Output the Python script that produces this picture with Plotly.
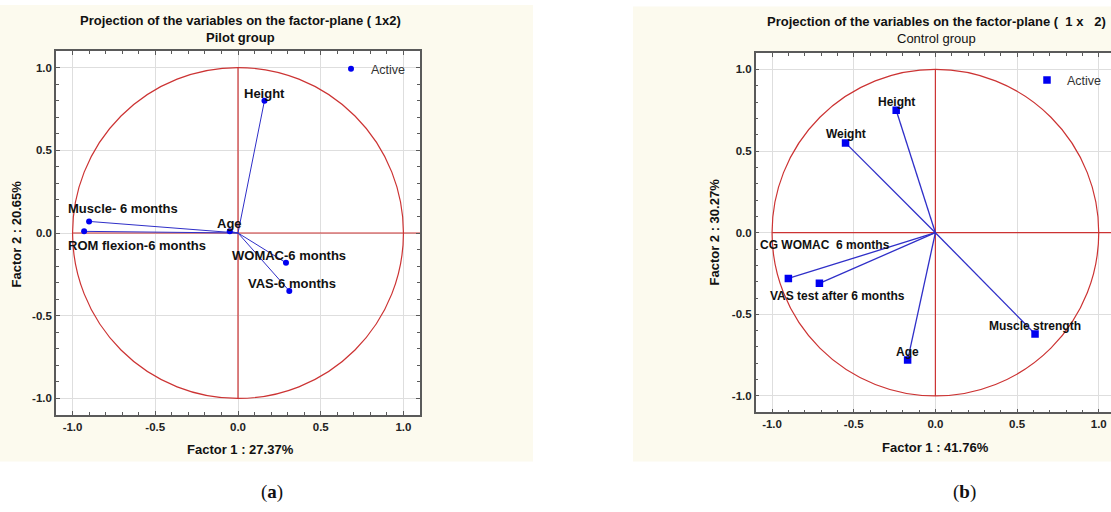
import plotly.graph_objects as go

# ---- data: factor loadings (Factor 1, Factor 2) of each variable ----
pilot_vars = ["Height", "Muscle- 6 months", "ROM flexion-6 months", "Age",
              "WOMAC-6 months", "VAS-6 months"]
pilot_f1 = [0.16, -0.90, -0.93, -0.05, 0.29, 0.31]
pilot_f2 = [0.80, 0.07, 0.01, 0.01, -0.18, -0.35]

control_vars = ["Height", "Weight", "CG WOMAC  6 months", "VAS test after 6 months",
                "Age", "Muscle strength"]
control_f1 = [-0.24, -0.55, -0.90, -0.71, -0.17, 0.61]
control_f2 = [0.75, 0.55, -0.28, -0.31, -0.78, -0.62]

tick_vals = [-1.0, -0.5, 0.0, 0.5, 1.0]
tick_text = ["-1.0", "-0.5", "0.0", "0.5", "1.0"]

pilot_titles = ["Factor 1 : 27.37%", "Factor 2 : 20.65%"]
control_titles = ["Factor 1 : 41.76%", "Factor 2 : 30.27%"]

# ---- label placement (anchor, x shift px, y shift px) ----
pilot_label_pos = [("center", 0, 7.5), ("left", -22.6, 12.7), ("left", -17.7, -14),
                   ("center", 0, 7.6), ("left", -56, 7), ("left", -43, 7)]
control_label_pos = [("center", 0, 8.5), ("center", 0, 8.5), ("left", -30, 33),
                     ("left", -51.7, -12.3), ("center", 0, 8), ("center", 0, 8)]

W, H = 1111, 512
FONT = "Liberation Sans"
CREAM = "#fcfaee"
FRAME = "#5a5a5a"
RED = "#cc3333"
BLUE_LINE = "#2f2fc8"
BLUE_DOT = "#0000f0"


def px_x(p):
    return p / W


def px_y(p):
    return 1 - p / H


def axis(domain, rng, mirror, anchor):
    return dict(
        domain=domain, range=rng, anchor=anchor,
        tickmode="array", tickvals=tick_vals, ticktext=tick_text,
        ticks="inside", ticklen=4, tickcolor=FRAME, tickwidth=1,
        showline=True, linecolor=FRAME, linewidth=1.5, mirror=mirror,
        showgrid=True, gridcolor="#dedede", gridwidth=1, zeroline=False,
        minor=dict(tickmode="linear", tick0=0, dtick=0.1, ticks="inside", ticklen=3,
                   tickcolor=FRAME, showgrid=False),
        tickfont=dict(family=FONT, size=11.5, color="#222222", weight="bold"),
        fixedrange=True,
    )


fig = go.Figure()


def add_panel(names, f1, f2, xa, ya, marker_symbol, marker_size, line_w, legend_id, label_pos,
              label_size):
    xs, ys = [], []
    for a, b in zip(f1, f2):
        xs += [0, a, None]
        ys += [0, b, None]
    fig.add_trace(go.Scatter(x=xs, y=ys, mode="lines", xaxis=xa, yaxis=ya,
                             line=dict(color=BLUE_LINE, width=line_w),
                             showlegend=False, hoverinfo="skip"))
    fig.add_trace(go.Scatter(x=f1, y=f2, mode="markers", xaxis=xa, yaxis=ya, name="Active",
                             text=names, legend=legend_id,
                             marker=dict(color=BLUE_DOT, size=marker_size, symbol=marker_symbol)))
    for name, a, b, (anchor, dx, dy) in zip(names, f1, f2, label_pos):
        fig.add_annotation(x=a, y=b, xref=xa, yref=ya, text=name, showarrow=False,
                           xanchor=anchor, yanchor="middle", xshift=dx, yshift=dy,
                           font=dict(family=FONT, size=label_size, color="#111111",
                                     weight="bold"))


add_panel(pilot_vars, pilot_f1, pilot_f2, "x", "y", "circle", 6, 1.0, "legend",
          pilot_label_pos, 13)
add_panel(control_vars, control_f1, control_f2, "x2", "y2", "square", 7.5, 1.3, "legend2",
          control_label_pos, 12)

shapes = []
# cream panel backgrounds
shapes.append(dict(type="rect", xref="paper", yref="paper", x0=px_x(0), x1=px_x(533),
                   y0=px_y(461.5), y1=px_y(5), fillcolor=CREAM, line_width=0, layer="below"))
shapes.append(dict(type="rect", xref="paper", yref="paper", x0=px_x(633), x1=1,
                   y0=px_y(461.5), y1=px_y(6.5), fillcolor=CREAM, line_width=0, layer="below"))
# white plotting areas
for xd, yd in (("x domain", "y domain"), ("x2 domain", "y2 domain")):
    shapes.append(dict(type="rect", xref=xd, yref=yd, x0=0, x1=1, y0=0, y1=1,
                       fillcolor="white", line_width=0, layer="below"))
# unit circle and red cross
for xr, yr, xmax in (("x", "y", 1.1), ("x2", "y2", 1.1)):
    shapes.append(dict(type="circle", xref=xr, yref=yr, x0=-1, y0=-1, x1=1, y1=1,
                       line=dict(color=RED, width=1.2), layer="between"))
    shapes.append(dict(type="line", xref=xr, yref=yr, x0=-1, x1=xmax, y0=0, y1=0,
                       line=dict(color=RED, width=1.2), layer="between"))
    shapes.append(dict(type="line", xref=xr, yref=yr, x0=0, x1=0, y0=-1, y1=1,
                       line=dict(color=RED, width=1.2), layer="between"))

annotations = []
# titles
annotations.append(dict(xref="paper", yref="paper", x=px_x(240), y=px_y(29), showarrow=False,
                        text="Projection of the variables on the factor-plane ( 1x2)<br>Pilot group",
                        font=dict(family=FONT, size=13, color="#111111", weight="bold"),
                        xanchor="center", yanchor="middle"))
annotations.append(dict(xref="paper", yref="paper", x=px_x(936.5), y=px_y(29.5), showarrow=False,
                        text="<b>Projection of the variables on the factor-plane (  1 x   2)</b><br>Control group",
                        font=dict(family=FONT, size=13, color="#111111"),
                        xanchor="center", yanchor="middle"))
# axis titles
for (t1, t2), cx, cy, ax_x, ax_y in ((pilot_titles, 240, 234, 16.4, 449.3),
                                     (control_titles, 935, 232.5, 714, 447.3)):
    annotations.append(dict(xref="paper", yref="paper", x=px_x(cx), y=px_y(ax_y), text=t1,
                            showarrow=False, xanchor="center", yanchor="middle",
                            font=dict(family=FONT, size=13, color="#111111", weight="bold")))
    annotations.append(dict(xref="paper", yref="paper", x=px_x(ax_x), y=px_y(cy), text=t2,
                            showarrow=False, xanchor="center", yanchor="middle", textangle=-90,
                            font=dict(family=FONT, size=13, color="#111111", weight="bold")))
# panel captions
for lab, cx in (("a", 272), ("b", 964)):
    annotations.append(dict(xref="paper", yref="paper", x=px_x(cx), y=px_y(492),
                            text="(<b>%s</b>)" % lab, showarrow=False,
                            xanchor="center", yanchor="middle",
                            font=dict(family="Liberation Serif", size=19, color="#111111")))

fig.update_layout(
    width=W, height=H, margin=dict(l=0, r=0, t=0, b=0),
    paper_bgcolor="white", plot_bgcolor="white",
    xaxis=axis([px_x(56), px_x(420)], [-1.1, 1.1], "allticks", "y"),
    yaxis=axis([px_y(415), px_y(51)], [-1.1, 1.1], "allticks", "x"),
    xaxis2=axis([px_x(755.7), 1.0], [-1.1, 1.075], "allticks", "y2"),
    yaxis2=axis([px_y(412.3), px_y(53.1)], [-1.1, 1.1], False, "x2"),
    shapes=shapes,
    legend=dict(x=px_x(331), y=px_y(69), xanchor="left", yanchor="middle",
                bgcolor="rgba(0,0,0,0)", borderwidth=0,
                font=dict(family=FONT, size=12.5, color="#333333")),
    legend2=dict(x=px_x(1027), y=px_y(80.3), xanchor="left", yanchor="middle",
                 bgcolor="rgba(0,0,0,0)", borderwidth=0,
                 font=dict(family=FONT, size=12.5, color="#333333")),
    hovermode=False,
)
for a in annotations:
    fig.add_annotation(**a)

fig.write_html("out.html")
